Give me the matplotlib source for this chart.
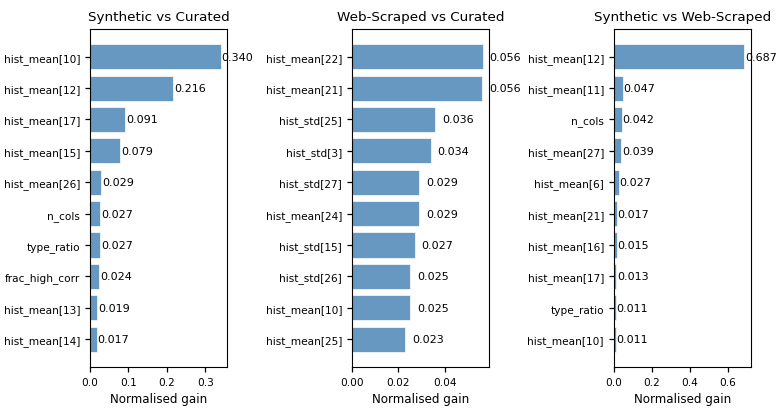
import matplotlib
matplotlib.use("Agg")
import matplotlib.pyplot as plt

titles = ["Synthetic vs Curated", "Web-Scraped vs Curated", "Synthetic vs Web-Scraped"]

feat_syn_cur = ["hist_mean[10]", "hist_mean[12]", "hist_mean[17]", "hist_mean[15]", "hist_mean[26]",
                "n_cols", "type_ratio", "frac_high_corr", "hist_mean[13]", "hist_mean[14]"]
gain_syn_cur = [0.340, 0.216, 0.091, 0.079, 0.029, 0.027, 0.027, 0.024, 0.019, 0.017]

feat_web_cur = ["hist_mean[22]", "hist_mean[21]", "hist_std[25]", "hist_std[3]", "hist_std[27]",
                "hist_mean[24]", "hist_std[15]", "hist_std[26]", "hist_mean[10]", "hist_mean[25]"]
gain_web_cur = [0.0563, 0.0561, 0.036, 0.034, 0.029, 0.029, 0.027, 0.025, 0.025, 0.023]

feat_syn_web = ["hist_mean[12]", "hist_mean[11]", "n_cols", "hist_mean[27]", "hist_mean[6]",
                "hist_mean[21]", "hist_mean[16]", "hist_mean[17]", "type_ratio", "hist_mean[10]"]
gain_syn_web = [0.687, 0.047, 0.042, 0.039, 0.027, 0.017, 0.015, 0.013, 0.011, 0.011]

panels = [
    (feat_syn_cur, gain_syn_cur, [0.0, 0.1, 0.2, 0.3], "{:.1f}"),
    (feat_web_cur, gain_web_cur, [0.00, 0.02, 0.04], "{:.2f}"),
    (feat_syn_web, gain_syn_web, [0.0, 0.2, 0.4, 0.6], "{:.1f}"),
]

fig, axes = plt.subplots(1, 3, figsize=(7.79, 4.14), dpi=100)
fig.subplots_adjust(left=0.1155, right=0.964, top=0.928, bottom=0.111, wspace=0.91)

for ax, title, (feats, gains, ticks, fmt) in zip(axes, titles, panels):
    y = list(range(len(feats)))
    ax.barh(y, gains, height=0.8, color="steelblue", alpha=0.82, edgecolor="white", linewidth=0.6)
    for yi, v in zip(y, gains):
        ax.text(v + 0.003, yi, f"{v:.3f}", va="center", ha="left", fontsize=8)
    ax.set_yticks(y)
    ax.set_yticklabels(feats, fontsize=7.6)
    ax.invert_yaxis()
    ax.set_xticks(ticks)
    ax.set_xticklabels([fmt.format(t) for t in ticks], fontsize=7.6)
    ax.tick_params(length=3.6, width=0.9)
    ax.set_xlabel("Normalised gain", fontsize=8.6)
    ax.set_title(title, fontsize=9.7)

fig.savefig("out.png", dpi=100)
